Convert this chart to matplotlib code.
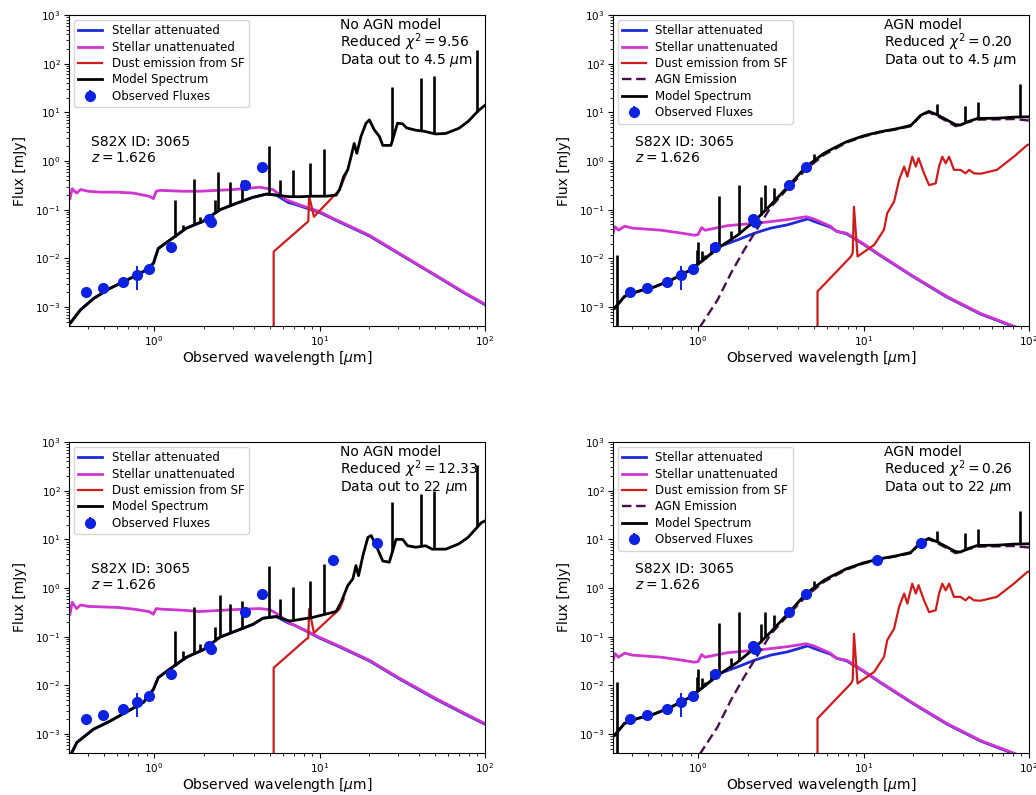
"""Four-panel SED fits for S82X 3065 (z = 1.626): no-AGN vs AGN models, two data ranges."""

import matplotlib

matplotlib.use("Agg")
import matplotlib.pyplot as plt
import numpy as np

OUT = "out.png"
XLIM = (0.306, 100.0)
YLIM = (4.1e-4, 1e3)

C_BLUE = "#1c2ad8"
C_MAG = "#cf35cf"
C_RED = "#cc1c1c"
C_AGN = "#4a0e4e"
C_OBS = "#0c22e0"

# --- observed photometry (mJy) ---
obs_wl = [0.39, 0.49, 0.65, 0.79, 0.93, 1.26, 2.15, 2.2, 3.56, 4.5]
obs_flux = [2.0e-3, 2.45e-3, 3.3e-3, 4.6e-3, 6.0e-3, 0.017, 0.065, 0.056, 0.33, 0.74]
obs_err = [2e-4, 2e-4, 3e-4, 2.3e-3, 5e-4, 1.5e-3, 5e-3, 5e-3, 0.02, 0.04]
wise_wl = [12.1, 22.2]
wise_flux = [3.7, 8.4]
wise_err = [0.2, 0.5]

# --- no-AGN fit, data to 4.5 um ---
na1_wl = [0.31, 0.358, 0.43, 0.543, 0.686, 0.863, 0.99, 1.06, 1.25, 1.57, 1.98, 2.5, 3.15,
          3.96, 4.78, 5.48, 6.5, 7.6, 9.0, 11.0, 12.6, 13.2, 14.0, 14.8, 15.5, 16.2, 16.8,
          17.8, 19.1, 20.0, 21.4, 23.0, 24.1, 27.0, 29.6, 31.8, 33.6, 38.2, 42.8, 50.3, 58.0,
          69.5, 79.0, 91.6, 100.0]
na1_model = [4.6e-4, 8.7e-4, 1.5e-3, 2.45e-3, 3.6e-3, 5.4e-3, 7.9e-3, 0.016, 0.024, 0.042,
             0.058, 0.10, 0.136, 0.18, 0.21, 0.20, 0.186, 0.185, 0.19, 0.19, 0.20, 0.26, 0.48,
             0.66, 1.23, 2.3, 1.45, 3.2, 6.0, 7.0, 4.4, 3.2, 2.1, 2.1, 6.0, 5.8, 4.8, 4.3, 4.1,
             3.6, 3.7, 4.7, 6.5, 11.0, 14.0]
na1_att_wl = [0.31, 0.358, 0.43, 0.543, 0.686, 0.863, 0.99, 1.06, 1.25, 1.57, 1.98, 2.5,
              3.15, 3.96, 4.78, 5.48, 6.0, 6.5, 7.0, 7.6, 10.0, 13.2, 20.0, 30.0, 50.0, 75.0,
              100.0]
na1_att = [4.6e-4, 8.7e-4, 1.5e-3, 2.45e-3, 3.6e-3, 5.4e-3, 7.9e-3, 0.016, 0.024, 0.042,
           0.058, 0.10, 0.136, 0.18, 0.21, 0.20, 0.165, 0.14, 0.132, 0.12, 0.088, 0.056,
           0.029, 0.0127, 4.5e-3, 1.95e-3, 1.12e-3]
na1_unatt_wl = [0.31, 0.32, 0.34, 0.36, 0.40, 0.47, 0.60, 0.75, 0.93, 0.99, 1.03, 1.09, 1.5,
                1.89, 3.0, 4.35, 5.23, 6.3, 7.58, 10.0, 12.0, 13.2, 20.0, 30.0, 50.0, 75.0,
                100.0]
na1_unatt = [0.17, 0.27, 0.22, 0.26, 0.24, 0.23, 0.23, 0.22, 0.19, 0.17, 0.24, 0.25, 0.24,
             0.24, 0.26, 0.29, 0.26, 0.16, 0.126, 0.092, 0.067, 0.058, 0.03, 0.013, 4.6e-3,
             2.0e-3, 1.15e-3]
na1_dust_wl = [5.28, 5.28, 8.3, 8.55, 8.65, 9.25, 13.2, 14.5]
na1_dust = [1e-4, 0.0138, 0.053, 0.058, 0.19, 0.072, 0.255, 0.56]
na1_line_wl = [1.33, 1.5, 1.75, 1.89, 2.34, 2.45, 2.87, 3.38, 4.95, 5.8, 6.9, 8.7, 10.7,
               27.5, 41.0, 48.9, 90.0]
na1_line_top = [0.16, 0.049, 0.42, 0.072, 0.16, 0.6, 0.38, 0.41, 2.0, 0.4, 0.66, 0.9, 1.8,
                33.0, 50.0, 56.0, 190.0]

# --- no-AGN fit, data to 22 um ---
na2_wl = [0.31, 0.342, 0.43, 0.543, 0.686, 0.863, 0.99, 1.06, 1.25, 1.57, 1.98, 2.5, 3.15,
          3.96, 4.55, 5.48, 6.6, 9.1, 12.6, 13.5, 14.8, 15.9, 16.6, 17.2, 18.3, 19.6, 20.5,
          22.0, 24.1, 26.4, 29.0, 31.8, 34.0, 38.2, 43.7, 48.0, 58.0, 69.5, 79.0, 95.0,
          100.0]
na2_model = [3.5e-4, 6.8e-4, 1.26e-3, 1.86e-3, 2.9e-3, 4.5e-3, 8.3e-3, 0.0145, 0.022, 0.038,
             0.054, 0.098, 0.133, 0.18, 0.24, 0.26, 0.21, 0.25, 0.33, 0.51, 1.12, 1.55, 2.9,
             1.8, 4.7, 11.0, 12.0, 7.4, 3.6, 3.4, 10.0, 10.0, 7.4, 6.9, 7.4, 6.3, 6.3, 8.1,
             11.0, 22.0, 24.0]
na2_att_wl = [0.31, 0.342, 0.43, 0.543, 0.686, 0.863, 0.99, 1.06, 1.25, 1.57, 1.98, 2.5,
              3.15, 3.96, 4.55, 5.48, 6.0, 6.5, 7.0, 8.0, 10.0, 13.2, 20.0, 30.0, 50.0, 75.0,
              100.0]
na2_att = [3.5e-4, 6.8e-4, 1.26e-3, 1.86e-3, 2.9e-3, 4.5e-3, 8.3e-3, 0.0145, 0.022, 0.038,
           0.054, 0.098, 0.133, 0.18, 0.24, 0.26, 0.22, 0.19, 0.175, 0.14, 0.094, 0.062, 0.032,
           0.014, 5.3e-3, 2.6e-3, 1.6e-3]
na2_unatt_wl = [0.31, 0.32, 0.34, 0.36, 0.40, 0.60, 0.75, 0.93, 0.99, 1.03, 1.09, 1.5, 1.89,
                3.0, 4.35, 5.0, 5.5, 6.6, 8.7, 10.0, 12.0, 13.2, 20.0, 30.0, 50.0, 75.0, 100.0]
na2_unatt = [0.29, 0.51, 0.38, 0.45, 0.42, 0.40, 0.37, 0.33, 0.29, 0.38, 0.37, 0.35, 0.33,
             0.36, 0.38, 0.36, 0.30, 0.19, 0.123, 0.097, 0.074, 0.064, 0.033, 0.0145, 5.5e-3,
             2.7e-3, 1.65e-3]
na2_dust_wl = [5.28, 5.28, 8.3, 8.55, 8.65, 9.25, 13.2, 14.0]
na2_dust = [1e-4, 0.023, 0.089, 0.095, 0.37, 0.12, 0.37, 0.6]
na2_line_wl = [1.33, 1.5, 1.75, 1.89, 2.34, 2.5, 2.87, 3.38, 4.95, 5.8, 6.9, 8.7, 10.7, 27.5,
               41.0, 48.9, 90.0]
na2_line_top = [0.13, 0.05, 0.40, 0.07, 0.16, 0.72, 0.47, 0.55, 2.9, 0.6, 1.05, 1.4, 3.1,
                59.0, 87.0, 100.0, 330.0]

# --- AGN fit (same model in both data ranges) ---
ag_wl = [0.313, 0.359, 0.431, 0.544, 0.687, 0.865, 1.04, 1.31, 1.73, 2.19, 2.75, 3.56, 4.49,
         5.78, 6.3, 7.9, 10.0, 12.6, 15.8, 19.3, 20.2, 22.1, 24.8, 27.9, 32.1, 36.0, 38.6,
         42.4, 48.8, 64.6, 81.0, 98.0, 100.0]
ag_model = [9.5e-4, 1.66e-3, 2.1e-3, 2.6e-3, 3.6e-3, 5.4e-3, 8.5e-3, 0.016, 0.030, 0.058,
            0.126, 0.32, 0.77, 1.45, 1.7, 2.5, 3.3, 4.0, 4.6, 5.4, 6.3, 8.7, 10.5, 8.9, 6.9,
            5.6, 5.5, 6.4, 7.5, 7.6, 8.0, 8.1, 8.1]
ag_att_wl = [0.313, 0.359, 0.431, 0.544, 0.687, 0.865, 1.04, 1.25, 1.31, 1.73, 2.19, 2.75,
             3.47, 4.39, 4.6, 5.0, 6.3, 6.9, 7.9, 10.0, 12.6, 20.0, 32.0, 51.0, 82.0, 100.0]
ag_att = [9.5e-4, 1.66e-3, 2.1e-3, 2.6e-3, 3.6e-3, 5.4e-3, 8.5e-3, 0.014, 0.017, 0.024,
          0.033, 0.042, 0.049, 0.062, 0.065, 0.058, 0.044, 0.036, 0.032, 0.0195, 0.0115,
          4.2e-3, 1.6e-3, 7.2e-4, 3.9e-4, 2.7e-4]
ag_unatt_wl = [0.305, 0.315, 0.33, 0.36, 0.40, 0.60, 0.80, 0.95, 1.0, 1.05, 1.1, 1.5, 2.5,
               3.5, 4.5, 5.0, 6.3, 6.6, 6.9, 7.9, 10.0, 12.6, 20.0, 32.0, 51.0, 82.0, 100.0]
ag_unatt = [0.032, 0.045, 0.038, 0.046, 0.042, 0.038, 0.033, 0.030, 0.031, 0.043, 0.038,
            0.047, 0.055, 0.063, 0.072, 0.065, 0.046, 0.040, 0.036, 0.033, 0.020, 0.0118,
            4.3e-3, 1.65e-3, 7.4e-4, 4.0e-4, 2.8e-4]
ag_dust_wl = [5.27, 5.27, 8.4, 8.6, 8.75, 9.2, 11.6, 13.3, 13.9, 15.3, 16.4, 17.6, 18.4, 19.7,
              20.7, 21.5, 23.2, 24.9, 27.3, 28.6, 29.9, 31.4, 32.9, 35.2, 38.5, 41.4, 43.5,
              46.5, 51.0, 64.0, 81.0, 97.0, 100.0]
ag_dust = [1e-4, 2.1e-3, 0.011, 0.013, 0.115, 0.011, 0.019, 0.039, 0.085, 0.147, 0.41, 0.77,
           0.48, 1.23, 0.77, 1.15, 0.56, 0.32, 0.35, 0.77, 1.23, 0.9, 1.23, 0.66, 0.66, 0.56,
           0.66, 0.56, 0.55, 0.66, 1.23, 2.1, 2.2]
ag_torus_wl = [0.98, 1.03, 1.31, 1.58, 1.9, 2.19, 2.76, 3.47, 4.5, 5.78, 7.9, 10.0, 12.6, 15.8,
               19.3, 22.1, 24.8, 27.9, 32.1, 36.0, 42.4, 48.8, 64.6, 81.0, 100.0]
ag_torus = [2e-4, 4e-4, 1.4e-3, 5e-3, 0.015, 0.033, 0.115, 0.27, 0.68, 1.35, 2.4, 3.2, 3.9,
            4.5, 5.2, 8.4, 10.1, 8.4, 6.5, 5.2, 6.2, 7.1, 7.2, 7.3, 6.8]
ag_line_wl = [0.98, 1.0, 1.05, 1.1, 1.2, 1.34, 1.57, 1.76, 2.4, 2.54, 2.89, 4.99, 27.9, 41.0,
              49.0, 88.0]
ag_line_top = [0.015, 0.022, 0.014, 0.012, 0.02, 0.19, 0.036, 0.32, 0.18, 0.32, 0.28, 1.4,
               15.0, 13.5, 16.6, 38.0]
lya_wl = [0.325]
lya_lo = [3e-4]
lya_hi = [0.012]

ID_TEXT = "S82X ID: 3065\n$z = 1.626$"


def base_of(wl, cont_wl, cont_f):
    return np.exp(np.interp(np.log(wl), np.log(cont_wl), np.log(cont_f)))


def panel(ax, m, note, agn=None, wise=False):
    ax.plot(m["att_wl"], m["att"], color=C_BLUE, lw=2.0, label="Stellar attenuated")
    ax.plot(m["unatt_wl"], m["unatt"], color=C_MAG, lw=2.0, label="Stellar unattenuated")
    ax.plot(m["dust_wl"], m["dust"], color=C_RED, lw=1.6, label="Dust emission from SF")
    if agn is not None:
        ax.plot(agn[0], agn[1], color=C_AGN, lw=1.7, ls=(0, (4, 2)), label="AGN Emission")
    ax.plot(m["wl"], m["model"], color="k", lw=2.0, label="Model Spectrum")
    base = base_of(m["line_wl"], m["wl"], m["model"])
    ax.vlines(m["line_wl"], base, m["line_top"], colors="k", lw=1.9)
    if agn is not None:
        ax.vlines(lya_wl, lya_lo, lya_hi, colors="k", lw=1.9)

    x, y, e = list(obs_wl), list(obs_flux), list(obs_err)
    if wise:
        x, y, e = x + wise_wl, y + wise_flux, e + wise_err
    ax.errorbar(x, y, yerr=e, fmt="o", color=C_OBS, ms=7, elinewidth=1.4, capsize=0,
                zorder=5, label="Observed Fluxes")

    ax.set_xscale("log")
    ax.set_yscale("log")
    ax.set_xlim(*XLIM)
    ax.set_ylim(*YLIM)
    ax.set_xlabel(r"Observed wavelength [$\mu$m]", fontsize=10, labelpad=0.5)
    ax.set_ylabel("Flux [mJy]", fontsize=10, labelpad=6)
    ax.tick_params(labelsize=7.5, pad=2.5)
    ax.legend(loc="upper left", fontsize=8.5, borderaxespad=0.4, labelspacing=0.28)
    ax.text(0.053, 0.615, ID_TEXT, transform=ax.transAxes, fontsize=10, va="top")
    ax.text(0.651, 0.99, note, transform=ax.transAxes, fontsize=10, va="top", linespacing=0.95)


def model(prefix):
    g = globals()
    return {k: g[f"{prefix}_{k}"] for k in ("wl", "model", "att_wl", "att", "unatt_wl",
                                            "unatt", "dust_wl", "dust", "line_wl", "line_top")}


def main():
    fig = plt.figure(figsize=(10.36, 7.95), dpi=100)
    w, h = 416 / 1036, 311 / 795
    ax1 = fig.add_axes([69 / 1036, 1 - 326 / 795, w, h])
    ax2 = fig.add_axes([613 / 1036, 1 - 326 / 795, w, h])
    ax3 = fig.add_axes([69 / 1036, 1 - 753 / 795, w, h])
    ax4 = fig.add_axes([613 / 1036, 1 - 753 / 795, w, h])

    agn = (ag_torus_wl, ag_torus)
    ag = {"wl": ag_wl, "model": ag_model, "att_wl": ag_att_wl, "att": ag_att,
          "unatt_wl": ag_unatt_wl, "unatt": ag_unatt, "dust_wl": ag_dust_wl, "dust": ag_dust,
          "line_wl": ag_line_wl, "line_top": ag_line_top}

    panel(ax1, model("na1"), "No AGN model\nReduced $\\chi^2 = 9.56$\nData out to 4.5 $\\mu$m")
    panel(ax2, ag, "AGN model\nReduced $\\chi^2 = 0.20$\nData out to 4.5 $\\mu$m", agn=agn)
    panel(ax3, model("na2"), "No AGN model\nReduced $\\chi^2 = 12.33$\nData out to 22 $\\mu$m",
          wise=True)
    panel(ax4, ag, "AGN model\nReduced $\\chi^2 = 0.26$\nData out to 22 $\\mu$m", agn=agn,
          wise=True)

    fig.savefig(OUT, dpi=100)


if __name__ == "__main__":
    main()
